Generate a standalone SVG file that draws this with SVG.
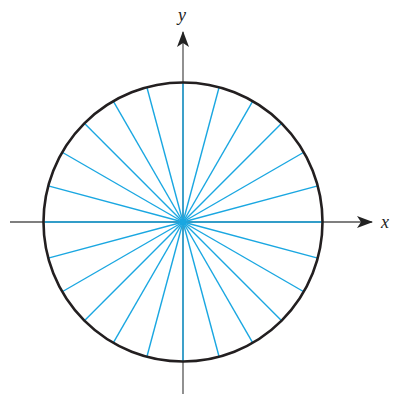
<svg xmlns="http://www.w3.org/2000/svg" width="393" height="394" viewBox="0 0 393 394">
<defs>
<style>
.axis{stroke:#555;stroke-width:1.3;fill:none}
.ray{stroke:#1aa7e1;stroke-width:1.4}
.lbl{font-family:"Liberation Serif",serif;font-style:italic;font-size:18px;fill:#222}
</style>
<marker id="ah" viewBox="0 0 16 12" refX="15" refY="6" markerWidth="16" markerHeight="12" markerUnits="userSpaceOnUse" orient="auto">
<path d="M0,0 L16,6 L0,12 L4,6 Z" fill="#222"/>
</marker>
</defs>
<g id="axes">
<line class="axis" x1="10" y1="222" x2="372" y2="222" marker-end="url(#ah)"/>
<line class="axis" x1="183" y1="394" x2="183" y2="32" marker-end="url(#ah)"/>
<text class="lbl" x="381" y="228">x</text>
<text class="lbl" x="178" y="21">y</text>
</g>
<g id="rays" class="ray" transform="translate(183,222)">
<line x1="0" y1="0" x2="139.5" y2="0"/>
<line x1="0" y1="0" x2="139.5" y2="0" transform="rotate(15)"/>
<line x1="0" y1="0" x2="139.5" y2="0" transform="rotate(30)"/>
<line x1="0" y1="0" x2="139.5" y2="0" transform="rotate(45)"/>
<line x1="0" y1="0" x2="139.5" y2="0" transform="rotate(60)"/>
<line x1="0" y1="0" x2="139.5" y2="0" transform="rotate(75)"/>
<line x1="0" y1="0" x2="139.5" y2="0" transform="rotate(90)"/>
<line x1="0" y1="0" x2="139.5" y2="0" transform="rotate(105)"/>
<line x1="0" y1="0" x2="139.5" y2="0" transform="rotate(120)"/>
<line x1="0" y1="0" x2="139.5" y2="0" transform="rotate(135)"/>
<line x1="0" y1="0" x2="139.5" y2="0" transform="rotate(150)"/>
<line x1="0" y1="0" x2="139.5" y2="0" transform="rotate(165)"/>
<line x1="0" y1="0" x2="139.5" y2="0" transform="rotate(180)"/>
<line x1="0" y1="0" x2="139.5" y2="0" transform="rotate(195)"/>
<line x1="0" y1="0" x2="139.5" y2="0" transform="rotate(210)"/>
<line x1="0" y1="0" x2="139.5" y2="0" transform="rotate(225)"/>
<line x1="0" y1="0" x2="139.5" y2="0" transform="rotate(240)"/>
<line x1="0" y1="0" x2="139.5" y2="0" transform="rotate(255)"/>
<line x1="0" y1="0" x2="139.5" y2="0" transform="rotate(270)"/>
<line x1="0" y1="0" x2="139.5" y2="0" transform="rotate(285)"/>
<line x1="0" y1="0" x2="139.5" y2="0" transform="rotate(300)"/>
<line x1="0" y1="0" x2="139.5" y2="0" transform="rotate(315)"/>
<line x1="0" y1="0" x2="139.5" y2="0" transform="rotate(330)"/>
<line x1="0" y1="0" x2="139.5" y2="0" transform="rotate(345)"/>
<circle cx="0" cy="0" r="2.2" fill="#1aa7e1" stroke="none"/>
</g>
<g id="circle">
<circle cx="183" cy="222" r="139.5" fill="none" stroke="#231f20" stroke-width="2.6"/>
</g>
</svg>
